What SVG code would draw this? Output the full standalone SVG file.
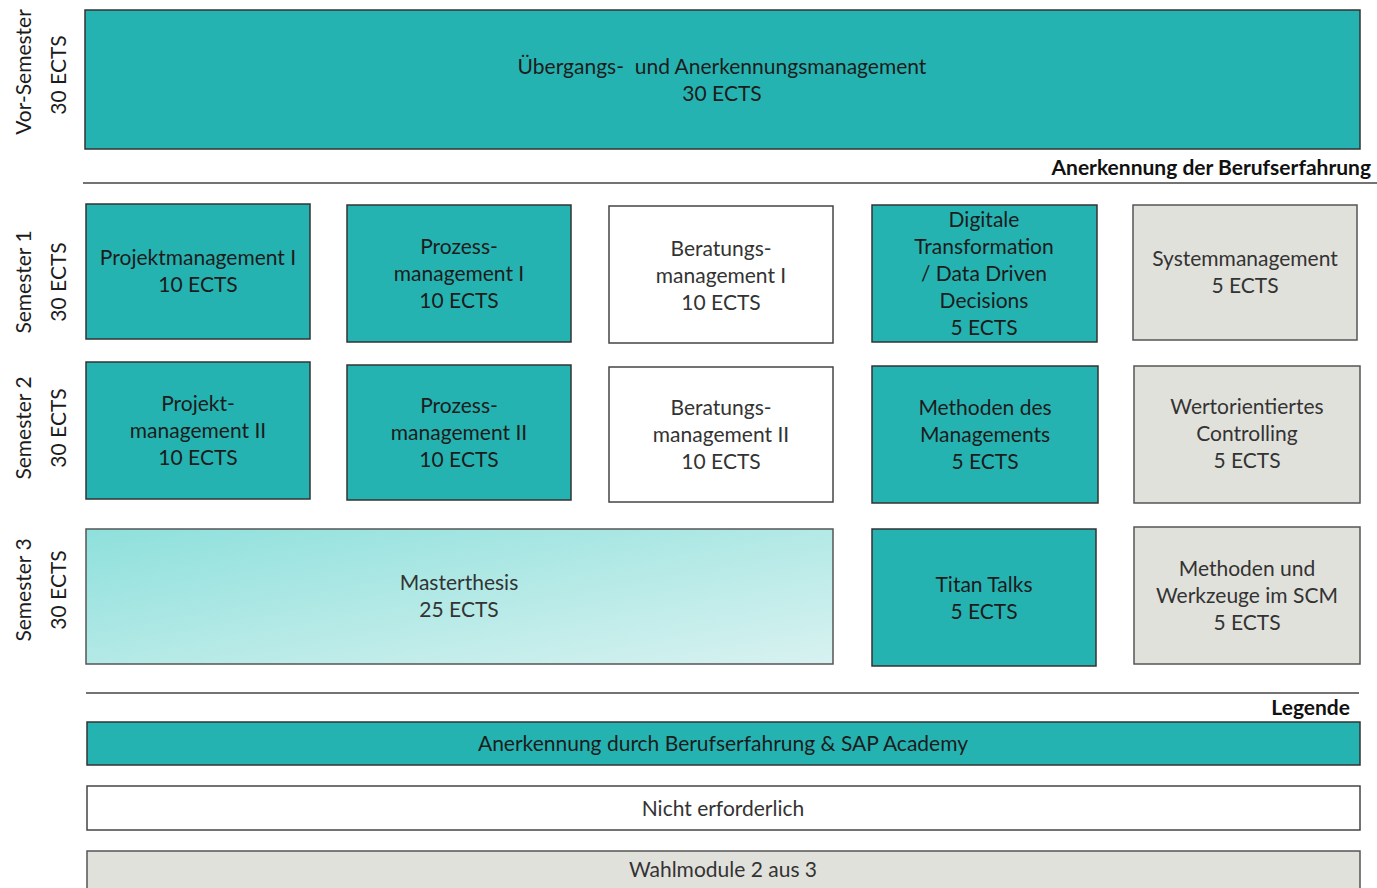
<svg xmlns="http://www.w3.org/2000/svg" width="1377" height="888" viewBox="0 0 1377 888">
<style>
text{font-family:Lato,"Open Sans","Liberation Sans",sans-serif;font-size:21px;fill:#1c1c1c;text-anchor:middle}
.t{fill:#25b3b1;stroke:#333;stroke-width:1.5}
.w{fill:#fff;stroke:#444;stroke-width:1.5}
.g{fill:#e1e1dc;stroke:#555;stroke-width:1.5}
.b{font-weight:bold;text-anchor:end;fill:#111}
.s{fill:#333}
.sep{stroke:#444;stroke-width:1.5}
</style>
<defs>
<linearGradient id="mg" x1="0" y1="0" x2="1" y2="1">
<stop offset="0" stop-color="#8ee0dc"/>
<stop offset="1" stop-color="#d8f2f0"/>
</linearGradient>
</defs>
<g id="labels">
<text transform="translate(31,72) rotate(-90)">Vor-Semester</text>
<text transform="translate(66,75) rotate(-90)">30 ECTS</text>
<text transform="translate(31,282) rotate(-90)">Semester 1</text>
<text transform="translate(66,282) rotate(-90)">30 ECTS</text>
<text transform="translate(31,428) rotate(-90)">Semester 2</text>
<text transform="translate(66,428) rotate(-90)">30 ECTS</text>
<text transform="translate(31,590) rotate(-90)">Semester 3</text>
<text transform="translate(66,590) rotate(-90)">30 ECTS</text>
</g>
<g id="vor">
<rect class="t" x="85" y="10" width="1275" height="139"/>
<text x="722" y="74" xml:space="preserve">Übergangs-  und Anerkennungsmanagement</text>
<text x="722" y="101">30 ECTS</text>
</g>
<g id="sep1">
<line class="sep" x1="83" y1="183" x2="1377" y2="183"/>
<text class="b" x="1371" y="175">Anerkennung der Berufserfahrung</text>
</g>
<g id="pm1">
<rect class="t" x="86" y="204" width="224" height="135"/>
<text x="198" y="265">Projektmanagement I</text>
<text x="198" y="292">10 ECTS</text>
</g>
<g id="prm1">
<rect class="t" x="347" y="205" width="224" height="137"/>
<text x="459" y="254">Prozess-</text>
<text x="459" y="281">management I</text>
<text x="459" y="308">10 ECTS</text>
</g>
<g id="bm1">
<rect class="w" x="609" y="206" width="224" height="137"/>
<text class="s" x="721" y="256">Beratungs-</text>
<text class="s" x="721" y="283">management I</text>
<text class="s" x="721" y="310">10 ECTS</text>
</g>
<g id="dt">
<rect class="t" x="872" y="205" width="225" height="137"/>
<text x="984" y="227">Digitale</text>
<text x="984" y="254">Transformation</text>
<text x="984" y="281">/ Data Driven</text>
<text x="984" y="308">Decisions</text>
<text x="984" y="335">5 ECTS</text>
</g>
<g id="sm">
<rect class="g" x="1133" y="205" width="224" height="135"/>
<text class="s" x="1245" y="266">Systemmanagement</text>
<text class="s" x="1245" y="293">5 ECTS</text>
</g>
<g id="pm2">
<rect class="t" x="86" y="362" width="224" height="137"/>
<text x="198" y="411">Projekt-</text>
<text x="198" y="438">management II</text>
<text x="198" y="465">10 ECTS</text>
</g>
<g id="prm2">
<rect class="t" x="347" y="365" width="224" height="135"/>
<text x="459" y="413">Prozess-</text>
<text x="459" y="440">management II</text>
<text x="459" y="467">10 ECTS</text>
</g>
<g id="bm2">
<rect class="w" x="609" y="367" width="224" height="135"/>
<text class="s" x="721" y="415">Beratungs-</text>
<text class="s" x="721" y="442">management II</text>
<text class="s" x="721" y="469">10 ECTS</text>
</g>
<g id="mdm">
<rect class="t" x="872" y="366" width="226" height="137"/>
<text x="985" y="415">Methoden des</text>
<text x="985" y="442">Managements</text>
<text x="985" y="469">5 ECTS</text>
</g>
<g id="woc">
<rect class="g" x="1134" y="366" width="226" height="137"/>
<text class="s" x="1247" y="414">Wertorientiertes</text>
<text class="s" x="1247" y="441">Controlling</text>
<text class="s" x="1247" y="468">5 ECTS</text>
</g>
<g id="mt">
<rect x="86" y="529" width="747" height="135" fill="url(#mg)" stroke="#555" stroke-width="1.5"/>
<text class="s" x="459" y="590">Masterthesis</text>
<text class="s" x="459" y="617">25 ECTS</text>
</g>
<g id="tt">
<rect class="t" x="872" y="529" width="224" height="137"/>
<text x="984" y="592">Titan Talks</text>
<text x="984" y="619">5 ECTS</text>
</g>
<g id="mws">
<rect class="g" x="1134" y="527" width="226" height="137"/>
<text class="s" x="1247" y="576">Methoden und</text>
<text class="s" x="1247" y="603">Werkzeuge im SCM</text>
<text class="s" x="1247" y="630">5 ECTS</text>
</g>
<g id="sep2">
<line class="sep" x1="86" y1="693" x2="1359" y2="693"/>
<text class="b" x="1350" y="715">Legende</text>
</g>
<g id="leg1">
<rect class="t" x="87" y="722" width="1273" height="43"/>
<text x="723" y="751">Anerkennung durch Berufserfahrung &amp; SAP Academy</text>
</g>
<g id="leg2">
<rect class="w" x="87" y="786" width="1273" height="44"/>
<text class="s" x="723" y="816">Nicht erforderlich</text>
</g>
<g id="leg3">
<rect class="g" x="87" y="851" width="1273" height="45"/>
<text class="s" x="723" y="877">Wahlmodule 2 aus 3</text>
</g>
<g id="connectors"/>
</svg>
